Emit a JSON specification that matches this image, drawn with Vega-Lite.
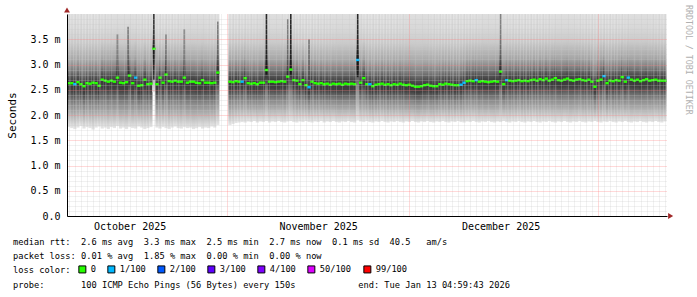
{
  "$schema": "https://vega.github.io/schema/vega-lite/v6.json",
  "width": 600,
  "height": 202,
  "autosize": {"type": "none"},
  "padding": {"left": 67, "top": 14, "right": 30, "bottom": 81},
  "background": "#ffffff",
  "config": {"view": {"stroke": null}},
  "title": {
    "text": [
      "median rtt:\u00a0\u00a02.6 ms avg\u00a0\u00a03.3 ms max\u00a0\u00a02.5 ms min\u00a0\u00a02.7 ms now\u00a0\u00a00.1 ms sd\u00a0\u00a040.5\u00a0\u00a0\u00a0am/s",
      "packet loss: 0.01 % avg\u00a0\u00a01.85 % max\u00a0\u00a00.00 % min\u00a0\u00a00.00 % now"
    ],
    "subtitle": "probe:\u00a0\u00a0\u00a0\u00a0\u00a0\u00a0\u00a0100 ICMP Echo Pings (56 Bytes) every 150s\u00a0\u00a0\u00a0\u00a0\u00a0\u00a0\u00a0\u00a0\u00a0\u00a0\u00a0\u00a0end: Tue Jan 13 04:59:43 2026",
    "orient": "bottom",
    "anchor": "start",
    "frame": "group",
    "dx": -54,
    "dy": -43,
    "offset": 6,
    "font": "DejaVu Sans Mono",
    "fontSize": 8.7,
    "fontWeight": "normal",
    "color": "#000000",
    "lineHeight": 14.3,
    "subtitleFont": "DejaVu Sans Mono",
    "subtitleFontSize": 8.7,
    "subtitleFontWeight": "normal",
    "subtitleColor": "#000000",
    "subtitleLineHeight": 14.3,
    "subtitlePadding": 20
  },
  "datasets": {
    "rtt": [
      {"t":"2025-10-06T00:00","m":2.63,"lo":1.76,"hi":4,"l":"0"},
      {"t":"2025-10-06T12:00","m":2.63,"lo":1.74,"hi":4,"l":"0"},
      {"t":"2025-10-07T00:00","m":2.61,"lo":1.72,"hi":4,"l":"1/100"},
      {"t":"2025-10-07T12:00","m":2.65,"lo":1.75,"hi":4,"l":"0"},
      {"t":"2025-10-08T00:00","m":2.61,"lo":1.78,"hi":4,"l":"0"},
      {"t":"2025-10-08T12:00","m":2.57,"lo":1.73,"hi":4,"l":"0"},
      {"t":"2025-10-09T00:00","m":2.63,"lo":1.76,"hi":4,"l":"0"},
      {"t":"2025-10-09T12:00","m":2.62,"lo":1.74,"hi":4,"l":"0"},
      {"t":"2025-10-10T00:00","m":2.64,"lo":1.71,"hi":4,"l":"0"},
      {"t":"2025-10-10T12:00","m":2.63,"lo":1.75,"hi":4,"l":"0"},
      {"t":"2025-10-11T00:00","m":2.58,"lo":1.77,"hi":4,"l":"0"},
      {"t":"2025-10-11T12:00","m":2.70,"lo":1.73,"hi":4,"l":"0"},
      {"t":"2025-10-12T00:00","m":2.68,"lo":1.75,"hi":4,"l":"0"},
      {"t":"2025-10-12T12:00","m":2.66,"lo":1.72,"hi":4,"l":"0"},
      {"t":"2025-10-13T00:00","m":2.68,"lo":1.76,"hi":4,"l":"0"},
      {"t":"2025-10-13T12:00","m":2.66,"lo":1.74,"hi":4,"l":"0"},
      {"t":"2025-10-14T00:00","m":2.74,"lo":1.78,"hi":4,"l":"0"},
      {"t":"2025-10-14T12:00","m":2.64,"lo":1.73,"hi":4,"l":"0"},
      {"t":"2025-10-15T00:00","m":2.63,"lo":1.75,"hi":4,"l":"0"},
      {"t":"2025-10-15T12:00","m":2.65,"lo":1.72,"hi":4,"l":"0"},
      {"t":"2025-10-16T00:00","m":2.78,"lo":1.76,"hi":4,"l":"0"},
      {"t":"2025-10-16T12:00","m":2.63,"lo":1.74,"hi":4,"l":"0"},
      {"t":"2025-10-17T00:00","m":2.74,"lo":1.73,"hi":4,"l":"1/100"},
      {"t":"2025-10-17T12:00","m":2.58,"lo":1.77,"hi":4,"l":"0"},
      {"t":"2025-10-18T00:00","m":2.59,"lo":1.75,"hi":4,"l":"0"},
      {"t":"2025-10-18T12:00","m":2.70,"lo":1.72,"hi":4,"l":"0"},
      {"t":"2025-10-19T00:00","m":2.61,"lo":1.74,"hi":4,"l":"0"},
      {"t":"2025-10-19T12:00","m":2.62,"lo":1.76,"hi":4,"l":"0"},
      {"t":"2025-10-20T00:00","m":3.31,"lo":2.45,"hi":4,"l":"0"},
      {"t":"2025-10-20T12:00","m":2.61,"lo":1.75,"hi":4,"l":"0"},
      {"t":"2025-10-21T00:00","m":2.74,"lo":1.73,"hi":4,"l":"0"},
      {"t":"2025-10-21T12:00","m":2.64,"lo":1.76,"hi":4,"l":"0"},
      {"t":"2025-10-22T00:00","m":2.80,"lo":1.74,"hi":4,"l":"0"},
      {"t":"2025-10-22T12:00","m":2.67,"lo":1.72,"hi":4,"l":"0"},
      {"t":"2025-10-23T00:00","m":2.66,"lo":1.75,"hi":4,"l":"0"},
      {"t":"2025-10-23T12:00","m":2.68,"lo":1.77,"hi":4,"l":"0"},
      {"t":"2025-10-24T00:00","m":2.66,"lo":1.74,"hi":4,"l":"0"},
      {"t":"2025-10-24T12:00","m":2.66,"lo":1.73,"hi":4,"l":"0"},
      {"t":"2025-10-25T00:00","m":2.74,"lo":1.76,"hi":4,"l":"0"},
      {"t":"2025-10-25T12:00","m":2.64,"lo":1.74,"hi":4,"l":"0"},
      {"t":"2025-10-26T00:00","m":2.66,"lo":1.75,"hi":4,"l":"0"},
      {"t":"2025-10-26T12:00","m":2.66,"lo":1.72,"hi":4,"l":"0"},
      {"t":"2025-10-27T00:00","m":2.64,"lo":1.74,"hi":4,"l":"0"},
      {"t":"2025-10-27T12:00","m":2.63,"lo":1.76,"hi":4,"l":"0"},
      {"t":"2025-10-28T00:00","m":2.69,"lo":1.73,"hi":4,"l":"0"},
      {"t":"2025-10-28T12:00","m":2.64,"lo":1.75,"hi":4,"l":"0"},
      {"t":"2025-10-29T00:00","m":2.64,"lo":1.74,"hi":4,"l":"0"},
      {"t":"2025-10-29T12:00","m":2.63,"lo":1.77,"hi":4,"l":"0"},
      {"t":"2025-10-30T00:00","m":2.64,"lo":1.75,"hi":4,"l":"0"},
      {"t":"2025-10-30T12:00","m":2.84,"lo":1.80,"hi":4,"l":"0"},
      {"t":"2025-11-01T12:00","m":2.66,"lo":1.80,"hi":4,"l":"0"},
      {"t":"2025-11-02T00:00","m":2.65,"lo":1.82,"hi":4,"l":"0"},
      {"t":"2025-11-02T12:00","m":2.67,"lo":1.84,"hi":4,"l":"0"},
      {"t":"2025-11-03T00:00","m":2.66,"lo":1.85,"hi":4,"l":"0"},
      {"t":"2025-11-03T12:00","m":2.66,"lo":1.86,"hi":4,"l":"1/100"},
      {"t":"2025-11-04T00:00","m":2.73,"lo":1.85,"hi":4,"l":"0"},
      {"t":"2025-11-04T12:00","m":2.63,"lo":1.87,"hi":4,"l":"0"},
      {"t":"2025-11-05T00:00","m":2.62,"lo":1.86,"hi":4,"l":"0"},
      {"t":"2025-11-05T12:00","m":2.63,"lo":1.88,"hi":4,"l":"0"},
      {"t":"2025-11-06T00:00","m":2.61,"lo":1.85,"hi":4,"l":"0"},
      {"t":"2025-11-06T12:00","m":2.64,"lo":1.87,"hi":4,"l":"0"},
      {"t":"2025-11-07T00:00","m":2.64,"lo":1.86,"hi":4,"l":"0"},
      {"t":"2025-11-07T12:00","m":2.89,"lo":1.88,"hi":4,"l":"0"},
      {"t":"2025-11-08T00:00","m":2.66,"lo":1.85,"hi":4,"l":"0"},
      {"t":"2025-11-08T12:00","m":2.66,"lo":1.87,"hi":4,"l":"0"},
      {"t":"2025-11-09T00:00","m":2.65,"lo":1.86,"hi":4,"l":"0"},
      {"t":"2025-11-09T12:00","m":2.66,"lo":1.88,"hi":4,"l":"0"},
      {"t":"2025-11-10T00:00","m":2.67,"lo":1.86,"hi":4,"l":"0"},
      {"t":"2025-11-10T12:00","m":2.66,"lo":1.85,"hi":4,"l":"0"},
      {"t":"2025-11-11T00:00","m":2.76,"lo":1.87,"hi":4,"l":"0"},
      {"t":"2025-11-11T12:00","m":2.90,"lo":1.88,"hi":4,"l":"0"},
      {"t":"2025-11-12T00:00","m":2.69,"lo":1.86,"hi":4,"l":"0"},
      {"t":"2025-11-12T12:00","m":2.68,"lo":1.85,"hi":4,"l":"0"},
      {"t":"2025-11-13T00:00","m":2.61,"lo":1.87,"hi":4,"l":"0"},
      {"t":"2025-11-13T12:00","m":2.69,"lo":1.86,"hi":4,"l":"0"},
      {"t":"2025-11-14T00:00","m":2.59,"lo":1.88,"hi":4,"l":"0"},
      {"t":"2025-11-14T12:00","m":2.55,"lo":1.86,"hi":4,"l":"1/100"},
      {"t":"2025-11-15T00:00","m":2.66,"lo":1.85,"hi":4,"l":"0"},
      {"t":"2025-11-15T12:00","m":2.63,"lo":1.87,"hi":4,"l":"0"},
      {"t":"2025-11-16T00:00","m":2.62,"lo":1.86,"hi":4,"l":"0"},
      {"t":"2025-11-16T12:00","m":2.63,"lo":1.88,"hi":4,"l":"0"},
      {"t":"2025-11-17T00:00","m":2.61,"lo":1.85,"hi":4,"l":"0"},
      {"t":"2025-11-17T12:00","m":2.62,"lo":1.87,"hi":4,"l":"0"},
      {"t":"2025-11-18T00:00","m":2.60,"lo":1.86,"hi":4,"l":"0"},
      {"t":"2025-11-18T12:00","m":2.62,"lo":1.88,"hi":4,"l":"0"},
      {"t":"2025-11-19T00:00","m":2.61,"lo":1.86,"hi":4,"l":"0"},
      {"t":"2025-11-19T12:00","m":2.62,"lo":1.85,"hi":4,"l":"0"},
      {"t":"2025-11-20T00:00","m":2.60,"lo":1.87,"hi":4,"l":"0"},
      {"t":"2025-11-20T12:00","m":2.62,"lo":1.86,"hi":4,"l":"0"},
      {"t":"2025-11-21T00:00","m":2.61,"lo":1.88,"hi":4,"l":"0"},
      {"t":"2025-11-21T12:00","m":2.62,"lo":1.86,"hi":4,"l":"0"},
      {"t":"2025-11-22T00:00","m":2.61,"lo":1.85,"hi":4,"l":"0"},
      {"t":"2025-11-22T12:00","m":3.09,"lo":1.90,"hi":4,"l":"1/100"},
      {"t":"2025-11-23T00:00","m":2.64,"lo":1.87,"hi":4,"l":"0"},
      {"t":"2025-11-23T12:00","m":2.73,"lo":1.86,"hi":4,"l":"0"},
      {"t":"2025-11-24T00:00","m":2.61,"lo":1.88,"hi":4,"l":"0"},
      {"t":"2025-11-24T12:00","m":2.61,"lo":1.86,"hi":4,"l":"1/100"},
      {"t":"2025-11-25T00:00","m":2.57,"lo":1.85,"hi":4,"l":"0"},
      {"t":"2025-11-25T12:00","m":2.60,"lo":1.87,"hi":4,"l":"0"},
      {"t":"2025-11-26T00:00","m":2.61,"lo":1.86,"hi":4,"l":"0"},
      {"t":"2025-11-26T12:00","m":2.62,"lo":1.88,"hi":4,"l":"0"},
      {"t":"2025-11-27T00:00","m":2.60,"lo":1.86,"hi":4,"l":"0"},
      {"t":"2025-11-27T12:00","m":2.61,"lo":1.85,"hi":4,"l":"0"},
      {"t":"2025-11-28T00:00","m":2.59,"lo":1.87,"hi":4,"l":"0"},
      {"t":"2025-11-28T12:00","m":2.61,"lo":1.86,"hi":4,"l":"0"},
      {"t":"2025-11-29T00:00","m":2.60,"lo":1.88,"hi":4,"l":"0"},
      {"t":"2025-11-29T12:00","m":2.62,"lo":1.86,"hi":4,"l":"0"},
      {"t":"2025-11-30T00:00","m":2.60,"lo":1.85,"hi":4,"l":"0"},
      {"t":"2025-11-30T12:00","m":2.59,"lo":1.87,"hi":4,"l":"0"},
      {"t":"2025-12-01T00:00","m":2.60,"lo":1.86,"hi":4,"l":"0"},
      {"t":"2025-12-01T12:00","m":2.58,"lo":1.88,"hi":4,"l":"0"},
      {"t":"2025-12-02T00:00","m":2.56,"lo":1.86,"hi":4,"l":"0"},
      {"t":"2025-12-02T12:00","m":2.56,"lo":1.85,"hi":4,"l":"0"},
      {"t":"2025-12-03T00:00","m":2.57,"lo":1.87,"hi":4,"l":"0"},
      {"t":"2025-12-03T12:00","m":2.59,"lo":1.86,"hi":4,"l":"0"},
      {"t":"2025-12-04T00:00","m":2.60,"lo":1.88,"hi":4,"l":"0"},
      {"t":"2025-12-04T12:00","m":2.58,"lo":1.86,"hi":4,"l":"0"},
      {"t":"2025-12-05T00:00","m":2.57,"lo":1.85,"hi":4,"l":"0"},
      {"t":"2025-12-05T12:00","m":2.57,"lo":1.87,"hi":4,"l":"0"},
      {"t":"2025-12-06T00:00","m":2.61,"lo":1.86,"hi":4,"l":"0"},
      {"t":"2025-12-06T12:00","m":2.60,"lo":1.88,"hi":4,"l":"0"},
      {"t":"2025-12-07T00:00","m":2.62,"lo":1.86,"hi":4,"l":"0"},
      {"t":"2025-12-07T12:00","m":2.61,"lo":1.85,"hi":4,"l":"0"},
      {"t":"2025-12-08T00:00","m":2.60,"lo":1.87,"hi":4,"l":"0"},
      {"t":"2025-12-08T12:00","m":2.59,"lo":1.86,"hi":4,"l":"0"},
      {"t":"2025-12-09T00:00","m":2.59,"lo":1.88,"hi":4,"l":"0"},
      {"t":"2025-12-09T12:00","m":2.60,"lo":1.86,"hi":4,"l":"1/100"},
      {"t":"2025-12-10T00:00","m":2.64,"lo":1.85,"hi":4,"l":"1/100"},
      {"t":"2025-12-10T12:00","m":2.67,"lo":1.87,"hi":4,"l":"0"},
      {"t":"2025-12-11T00:00","m":2.68,"lo":1.86,"hi":4,"l":"0"},
      {"t":"2025-12-11T12:00","m":2.67,"lo":1.88,"hi":4,"l":"0"},
      {"t":"2025-12-12T00:00","m":2.69,"lo":1.86,"hi":4,"l":"1/100"},
      {"t":"2025-12-12T12:00","m":2.66,"lo":1.85,"hi":4,"l":"0"},
      {"t":"2025-12-13T00:00","m":2.67,"lo":1.87,"hi":4,"l":"0"},
      {"t":"2025-12-13T12:00","m":2.66,"lo":1.86,"hi":4,"l":"0"},
      {"t":"2025-12-14T00:00","m":2.65,"lo":1.88,"hi":4,"l":"0"},
      {"t":"2025-12-14T12:00","m":2.66,"lo":1.86,"hi":4,"l":"0"},
      {"t":"2025-12-15T00:00","m":2.67,"lo":1.85,"hi":4,"l":"0"},
      {"t":"2025-12-15T12:00","m":2.66,"lo":1.87,"hi":4,"l":"0"},
      {"t":"2025-12-16T00:00","m":2.86,"lo":1.86,"hi":4,"l":"0"},
      {"t":"2025-12-16T12:00","m":2.61,"lo":1.88,"hi":4,"l":"0"},
      {"t":"2025-12-17T00:00","m":2.69,"lo":1.86,"hi":4,"l":"1/100"},
      {"t":"2025-12-17T12:00","m":2.68,"lo":1.85,"hi":4,"l":"0"},
      {"t":"2025-12-18T00:00","m":2.67,"lo":1.87,"hi":4,"l":"0"},
      {"t":"2025-12-18T12:00","m":2.68,"lo":1.86,"hi":4,"l":"0"},
      {"t":"2025-12-19T00:00","m":2.69,"lo":1.88,"hi":4,"l":"0"},
      {"t":"2025-12-19T12:00","m":2.67,"lo":1.86,"hi":4,"l":"0"},
      {"t":"2025-12-20T00:00","m":2.68,"lo":1.85,"hi":4,"l":"0"},
      {"t":"2025-12-20T12:00","m":2.67,"lo":1.87,"hi":4,"l":"0"},
      {"t":"2025-12-21T00:00","m":2.69,"lo":1.86,"hi":4,"l":"0"},
      {"t":"2025-12-21T12:00","m":2.70,"lo":1.88,"hi":4,"l":"0"},
      {"t":"2025-12-22T00:00","m":2.68,"lo":1.86,"hi":4,"l":"0"},
      {"t":"2025-12-22T12:00","m":2.71,"lo":1.85,"hi":4,"l":"0"},
      {"t":"2025-12-23T00:00","m":2.69,"lo":1.87,"hi":4,"l":"0"},
      {"t":"2025-12-23T12:00","m":2.72,"lo":1.86,"hi":4,"l":"0"},
      {"t":"2025-12-24T00:00","m":2.68,"lo":1.88,"hi":4,"l":"0"},
      {"t":"2025-12-24T12:00","m":2.70,"lo":1.86,"hi":4,"l":"0"},
      {"t":"2025-12-25T00:00","m":2.73,"lo":1.85,"hi":4,"l":"0"},
      {"t":"2025-12-25T12:00","m":2.69,"lo":1.87,"hi":4,"l":"0"},
      {"t":"2025-12-26T00:00","m":2.68,"lo":1.86,"hi":4,"l":"0"},
      {"t":"2025-12-26T12:00","m":2.70,"lo":1.88,"hi":4,"l":"0"},
      {"t":"2025-12-27T00:00","m":2.72,"lo":1.86,"hi":4,"l":"0"},
      {"t":"2025-12-27T12:00","m":2.69,"lo":1.85,"hi":4,"l":"0"},
      {"t":"2025-12-28T00:00","m":2.68,"lo":1.87,"hi":4,"l":"0"},
      {"t":"2025-12-28T12:00","m":2.70,"lo":1.86,"hi":4,"l":"0"},
      {"t":"2025-12-29T00:00","m":2.71,"lo":1.88,"hi":4,"l":"0"},
      {"t":"2025-12-29T12:00","m":2.69,"lo":1.86,"hi":4,"l":"0"},
      {"t":"2025-12-30T00:00","m":2.68,"lo":1.85,"hi":4,"l":"0"},
      {"t":"2025-12-30T12:00","m":2.70,"lo":1.87,"hi":4,"l":"0"},
      {"t":"2025-12-31T00:00","m":2.66,"lo":1.86,"hi":4,"l":"0"},
      {"t":"2025-12-31T12:00","m":2.56,"lo":1.88,"hi":4,"l":"0"},
      {"t":"2026-01-01T00:00","m":2.68,"lo":1.86,"hi":4,"l":"0"},
      {"t":"2026-01-01T12:00","m":2.70,"lo":1.85,"hi":4,"l":"0"},
      {"t":"2026-01-02T00:00","m":2.77,"lo":1.87,"hi":4,"l":"1/100"},
      {"t":"2026-01-02T12:00","m":2.63,"lo":1.86,"hi":4,"l":"0"},
      {"t":"2026-01-03T00:00","m":2.68,"lo":1.88,"hi":4,"l":"0"},
      {"t":"2026-01-03T12:00","m":2.67,"lo":1.86,"hi":4,"l":"0"},
      {"t":"2026-01-04T00:00","m":2.69,"lo":1.85,"hi":4,"l":"0"},
      {"t":"2026-01-04T12:00","m":2.68,"lo":1.87,"hi":4,"l":"0"},
      {"t":"2026-01-05T00:00","m":2.75,"lo":1.86,"hi":4,"l":"0"},
      {"t":"2026-01-05T12:00","m":2.66,"lo":1.88,"hi":4,"l":"0"},
      {"t":"2026-01-06T00:00","m":2.74,"lo":1.86,"hi":4,"l":"1/100"},
      {"t":"2026-01-06T12:00","m":2.70,"lo":1.85,"hi":4,"l":"0"},
      {"t":"2026-01-07T00:00","m":2.68,"lo":1.87,"hi":4,"l":"0"},
      {"t":"2026-01-07T12:00","m":2.70,"lo":1.86,"hi":4,"l":"0"},
      {"t":"2026-01-08T00:00","m":2.67,"lo":1.88,"hi":4,"l":"0"},
      {"t":"2026-01-08T12:00","m":2.69,"lo":1.86,"hi":4,"l":"0"},
      {"t":"2026-01-09T00:00","m":2.71,"lo":1.85,"hi":4,"l":"0"},
      {"t":"2026-01-09T12:00","m":2.68,"lo":1.87,"hi":4,"l":"0"},
      {"t":"2026-01-10T00:00","m":2.69,"lo":1.86,"hi":4,"l":"0"},
      {"t":"2026-01-10T12:00","m":2.70,"lo":1.88,"hi":4,"l":"0"},
      {"t":"2026-01-11T00:00","m":2.68,"lo":1.86,"hi":4,"l":"0"},
      {"t":"2026-01-11T12:00","m":2.68,"lo":1.85,"hi":4,"l":"0"},
      {"t":"2026-01-12T00:00","m":2.68,"lo":1.87,"hi":4,"l":"0"}
    ],
    "spikes": [
      {"t":"2025-10-14T00:00","lo":2.76,"hi":3.6,"s":1},
      {"t":"2025-10-15T18:00","lo":2.8,"hi":3.75,"s":1},
      {"t":"2025-10-20T00:00","lo":2.7,"hi":4,"s":2},
      {"t":"2025-10-22T00:00","lo":2.82,"hi":3.6,"s":1},
      {"t":"2025-10-25T00:00","lo":2.76,"hi":3.7,"s":1},
      {"t":"2025-10-30T12:00","lo":2.86,"hi":3.85,"s":1},
      {"t":"2025-11-07T12:00","lo":2.8,"hi":4,"s":2},
      {"t":"2025-11-11T00:00","lo":2.78,"hi":3.9,"s":1},
      {"t":"2025-11-11T12:00","lo":2.8,"hi":4,"s":2},
      {"t":"2025-11-14T12:00","lo":2.7,"hi":3.5,"s":1},
      {"t":"2025-11-22T12:00","lo":2.75,"hi":4,"s":2},
      {"t":"2025-12-16T00:00","lo":2.8,"hi":4,"s":1}
    ],
    "notes": [{"label": "RRDTOOL / TOBI OETIKER"}]
  },
  "layer": [
    {
      "data": {"name": "rtt"},
      "mark": {
        "type": "bar",
        "width": 3.2,
        "fill": {"gradient": "linear", "x1": 0, "y1": 0, "x2": 0, "y2": 1, "stops": [
          {"offset": 0, "color": "#383838"},
          {"offset": 0.16, "color": "#404040"},
          {"offset": 0.31, "color": "#666666"},
          {"offset": 0.45, "color": "#888888"},
          {"offset": 0.61, "color": "#a2a2a2"},
          {"offset": 0.76, "color": "#bdbdbd"},
          {"offset": 0.9, "color": "#d5d5d5"},
          {"offset": 1, "color": "#e6e6e6"}
        ]}
      },
      "encoding": {
        "x": {
          "field": "t", "type": "temporal",
          "scale": {"domain": [{"year": 2025, "month": 10, "date": 5, "hours": 17}, {"year": 2026, "month": 1, "date": 12, "hours": 8, "minutes": 30}], "padding": 0},
          "axis": {
            "title": null,
            "zindex": 1,
            "tickCount": {"interval": "day", "step": 1},
            "labelExpr": "date(datum.value) == 16 ? timeFormat(datum.value, '%B %Y') : ''",
            "labelOverlap": false,
            "labelBound": false,
            "labelFlush": false,
            "labelFont": "DejaVu Sans Mono",
            "labelFontSize": 10,
            "labelColor": "#000000",
            "labelPadding": 5,
            "ticks": false,
            "tickSize": 0,
            "domainColor": "#000000",
            "domainWidth": 1,
            "grid": true,
            "gridColor": {"condition": {"test": "date(datum.value) == 1", "value": "#ff8080"}, "value": "#c8c8c8"},
            "gridDash": [1, 1],
            "gridOpacity": {"condition": {"test": "date(datum.value) == 1", "value": 0.6}, "value": 0.5}
          }
        },
        "y": {
          "field": "m", "type": "quantitative",
          "scale": {"domain": [0, 4], "nice": false, "zero": true, "padding": 0},
          "axis": {
            "title": "Seconds",
            "zindex": 1,
            "tickCount": 100,
            "values": [0,0.1,0.2,0.3,0.4,0.5,0.6,0.7,0.8,0.9,1,1.1,1.2,1.3,1.4,1.5,1.6,1.7,1.8,1.9,2,2.1,2.2,2.3,2.4,2.5,2.6,2.7,2.8,2.9,3,3.1,3.2,3.3,3.4,3.5,3.6,3.7,3.8,3.9],
            "labelExpr": "format(datum.value, '.1f') == '0.0' ? '0.0' : (indexof(['0.5','1.0','1.5','2.0','2.5','3.0','3.5'], format(datum.value, '.1f')) >= 0 ? format(datum.value, '.1f') + ' m' : '')",
            "labelOverlap": false,
            "labelFont": "DejaVu Sans Mono",
            "labelFontSize": 10,
            "labelColor": "#000000",
            "labelPadding": 7,
            "ticks": false,
            "tickSize": 0,
            "domainColor": "#000000",
            "domainWidth": 1,
            "grid": true,
            "gridColor": {"condition": {"test": "indexof(['0.5','1.0','1.5','2.0','2.5','3.0','3.5'], format(datum.value, '.1f')) >= 0", "value": "#ff8080"}, "value": "#c8c8c8"},
            "gridDash": [1, 1],
            "gridOpacity": {"condition": {"test": "indexof(['0.5','1.0','1.5','2.0','2.5','3.0','3.5'], format(datum.value, '.1f')) >= 0", "value": 0.6}, "value": 0.5},
            "titleFont": "DejaVu Sans Mono",
            "titleFontSize": 11,
            "titleFontWeight": "normal",
            "titleColor": "#000000",
            "titlePadding": 12
          }
        },
        "y2": {"field": "lo"}
      }
    },
    {
      "data": {"name": "rtt"},
      "mark": {
        "type": "bar",
        "width": 3.2,
        "fill": {"gradient": "linear", "x1": 0, "y1": 0, "x2": 0, "y2": 1, "stops": [
          {"offset": 0, "color": "#dedede"},
          {"offset": 0.2, "color": "#d8d8d8"},
          {"offset": 0.42, "color": "#cacaca"},
          {"offset": 0.67, "color": "#a6a6a6"},
          {"offset": 0.82, "color": "#7c7c7c"},
          {"offset": 0.92, "color": "#505050"},
          {"offset": 1, "color": "#383838"}
        ]}
      },
      "encoding": {
        "x": {"field": "t", "type": "temporal"},
        "y": {"field": "hi", "type": "quantitative"},
        "y2": {"field": "m"}
      }
    },
    {
      "data": {"name": "spikes"},
      "mark": {"type": "bar", "width": 1.6, "color": "#151515"},
      "encoding": {
        "x": {"field": "t", "type": "temporal"},
        "y": {"field": "hi", "type": "quantitative"},
        "y2": {"field": "lo"},
        "opacity": {"field": "s", "type": "quantitative", "scale": {"domain": [1, 2], "range": [0.45, 0.9]}, "legend": null}
      }
    },
    {
      "data": {"name": "rtt"},
      "mark": {"type": "tick", "orient": "horizontal", "size": 3.4, "thickness": 2.4, "opacity": 1},
      "encoding": {
        "x": {"field": "t", "type": "temporal"},
        "y": {"field": "m", "type": "quantitative"},
        "color": {
          "field": "l", "type": "nominal",
          "scale": {"domain": ["0", "1/100", "2/100", "3/100", "4/100", "50/100", "99/100"], "range": ["#26ff00", "#00b8ff", "#0059ff", "#5e00ff", "#7e00ff", "#dd00ff", "#ff0000"]},
          "legend": {
            "title": "loss color:",
            "orient": "none",
            "legendX": -54,
            "legendY": 251,
            "direction": "horizontal",
            "titleOrient": "left",
            "titleFont": "DejaVu Sans Mono",
            "titleFontSize": 8.7,
            "titleFontWeight": "normal",
            "titleColor": "#000000",
            "titlePadding": 7,
            "labelFont": "DejaVu Sans Mono",
            "labelFontSize": 8.7,
            "labelColor": "#000000",
            "labelOffset": 4,
            "columnPadding": 9,
            "symbolType": "square",
            "symbolSize": 49,
            "symbolOpacity": 1,
            "symbolStrokeColor": "#000000",
            "symbolStrokeWidth": 1,
            "encode": {"symbols": {"update": {"stroke": {"value": "#000000"}, "strokeWidth": {"value": 1}, "opacity": {"value": 1}}}}
          }
        }
      }
    },
    {
      "data": {"name": "notes"},
      "mark": {"type": "point", "shape": "triangle-up", "filled": true, "color": "#a02828", "size": 34, "opacity": 1},
      "encoding": {
        "x": {"datum": {"year": 2025, "month": 10, "date": 5, "hours": 17}, "type": "temporal"},
        "y": {"datum": 4.08, "type": "quantitative"}
      }
    },
    {
      "data": {"name": "notes"},
      "mark": {"type": "point", "shape": "triangle-right", "filled": true, "color": "#a02828", "size": 34, "opacity": 1},
      "encoding": {
        "x": {"datum": {"year": 2026, "month": 1, "date": 12, "hours": 23}, "type": "temporal"},
        "y": {"datum": 0, "type": "quantitative"}
      }
    },
    {
      "data": {"name": "notes"},
      "mark": {"type": "text", "angle": 90, "align": "left", "baseline": "middle", "font": "DejaVu Sans Mono", "fontSize": 8.3, "color": "#b0b0b0"},
      "encoding": {
        "x": {"datum": {"year": 2026, "month": 1, "date": 15, "hours": 19}, "type": "temporal"},
        "y": {"datum": 4.18, "type": "quantitative"},
        "text": {"field": "label"}
      }
    }
  ]
}
